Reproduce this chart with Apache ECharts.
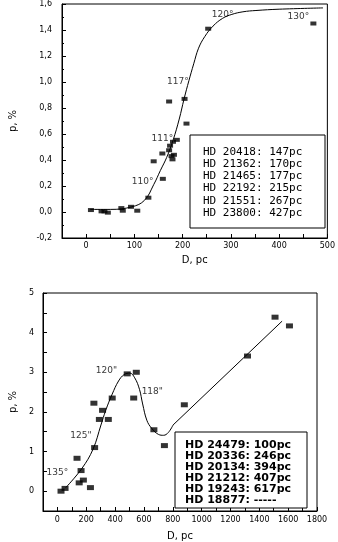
<!DOCTYPE html>
<html><head><meta charset="utf-8">
<script src="https://cdn.jsdelivr.net/npm/echarts@6/dist/echarts.min.js"></script>
<style>html,body{margin:0;padding:0;background:#fff}#c{width:338px;height:542px}</style>
</head><body><div id="c"></div>
<script>
// ---- Top panel data ----
const topPtsD = [10, 32, 38, 45, 73, 76, 93, 106, 129, 140, 158, 159, 172, 174, 177, 179, 182, 180, 188, 208, 172, 204, 253, 471];
const topPtsP = [0.015, 0.005, 0.005, -0.005, 0.03, 0.01, 0.04, 0.01, 0.11, 0.39, 0.45, 0.255, 0.475, 0.51, 0.43, 0.405, 0.44, 0.54, 0.555, 0.68, 0.85, 0.87, 1.41, 1.45];
const topCurveD = [8, 50, 95, 121, 140, 154, 167, 180, 193, 203, 213, 223, 233, 246, 263, 283, 302, 325, 352, 400, 491];
const topCurveP = [0.02, 0.02, 0.04, 0.09, 0.21, 0.32, 0.42, 0.55, 0.715, 0.87, 1.01, 1.14, 1.26, 1.35, 1.43, 1.49, 1.52, 1.54, 1.55, 1.56, 1.57];
const topAnnD = [117, 158, 190, 283, 440];
const topAnnP = [0.23, 0.565, 1.0, 1.52, 1.5];
const topAnnText = ['110°', '111°', '117°', '120°', '130°'];
const topLegend = ['HD 20418: 147pc', 'HD 21362: 170pc', 'HD 21465: 177pc', 'HD 22192: 215pc', 'HD 21551: 267pc', 'HD 23800: 427pc'];

// ---- Bottom panel data ----
const botPtsD = [25, 53, 136, 164, 151, 180, 229, 258, 253, 313, 291, 353, 380, 484, 547, 529, 669, 742, 880, 1318, 1509, 1609];
const botPtsP = [0.0, 0.07, 0.83, 0.52, 0.21, 0.28, 0.09, 1.10, 2.22, 2.04, 1.81, 1.81, 2.35, 2.96, 3.0, 2.35, 1.55, 1.15, 2.18, 3.41, 4.39, 4.17];
const botCurveD = [58, 169, 247, 302, 335, 380, 424, 462, 502, 536, 569, 591, 620, 653, 702, 736, 769, 802];
const botCurveP = [0.09, 0.57, 1.06, 1.67, 2.04, 2.45, 2.78, 2.94, 2.98, 2.86, 2.57, 2.2, 1.79, 1.59, 1.43, 1.41, 1.48, 1.67];
const botLineD = [802, 1558];
const botLineP = [1.67, 4.29];
const botAnnD = [0, 163, 340, 658];
const botAnnP = [0.47, 1.41, 3.05, 2.51];
const botAnnText = ['135°', '125"', '120"', '118"'];
const botLegend = ['HD 24479: 100pc', 'HD 20336: 246pc', 'HD 20134: 394pc', 'HD 21212: 407pc', 'HD 19243: 617pc', 'HD 18877: -----'];

const zip = (a, b) => a.map((v, i) => [v, b[i]]);
const F = 'DejaVu Sans';
const axisBase = {
  axisLine: { show: true, onZero: false, lineStyle: { color: '#000', width: 1 } },
  axisTick: { show: true, inside: true, length: 4, lineStyle: { color: '#000' } },
  splitLine: { show: false },
  nameTextStyle: { color: '#000', fontFamily: F, fontSize: 10 }
};

const chart = echarts.init(document.getElementById('c'), null, { renderer: 'canvas' });
chart.setOption({
  animation: false,
  backgroundColor: '#fff',
  grid: [
    { left: 53, right: 9, top: 2, bottom: 304, show: true, borderColor: '#000', borderWidth: 1 },
    { left: 32, right: 21, top: 293, bottom: 25, show: true, borderColor: '#000', borderWidth: 1 }
  ],
  xAxis: [
    Object.assign({}, axisBase, {
      gridIndex: 0, type: 'value', min: -50, max: 500, interval: 50,
      name: 'D, pc', nameLocation: 'middle', nameGap: 17,
      axisLabel: { color: '#000', fontFamily: F, fontSize: 8, margin: 4, showMaxLabel: true,
        formatter: v => (Math.round(v) % 100 === 0 && v >= 0) ? String(Math.round(v)) : '' }
    }),
    Object.assign({}, axisBase, {
      gridIndex: 1, type: 'value', min: -100, max: 1800, interval: 100,
      name: 'D, pc', nameLocation: 'middle', nameGap: 20,
      axisLabel: { color: '#000', fontFamily: F, fontSize: 8, margin: 5, showMaxLabel: true,
        formatter: v => (Math.round(v) % 200 === 0 && v >= 0) ? String(Math.round(v)) : '' }
    })
  ],
  yAxis: [
    Object.assign({}, axisBase, {
      gridIndex: 0, type: 'value', min: -0.2, max: 1.6, interval: 0.2,
      name: 'p, %', nameLocation: 'middle', nameGap: 44,
      minorTick: { show: true, splitNumber: 2, length: 2, lineStyle: { color: '#000' } },
      axisLabel: { color: '#000', fontFamily: F, fontSize: 8, margin: 10,
        formatter: v => v.toFixed(1).replace('.', ',') }
    }),
    Object.assign({}, axisBase, {
      gridIndex: 1, type: 'value', min: -0.5, max: 5, interval: 0.5,
      name: 'p, %', nameLocation: 'middle', nameGap: 24,
      axisLabel: { color: '#000', fontFamily: F, fontSize: 8, margin: 9,
        formatter: v => (Math.abs(v - Math.round(v)) < 1e-6) ? String(Math.round(v)) : '' }
    })
  ],
  series: [
    { type: 'line', xAxisIndex: 0, yAxisIndex: 0, data: zip(topCurveD, topCurveP), smooth: 0.4,
      showSymbol: false, lineStyle: { color: '#000', width: 1 }, silent: true },
    { type: 'scatter', xAxisIndex: 0, yAxisIndex: 0, data: zip(topPtsD, topPtsP),
      symbol: 'rect', symbolSize: [6, 4], itemStyle: { color: '#000' } },
    { type: 'scatter', xAxisIndex: 0, yAxisIndex: 0, symbolSize: 0,
      data: topAnnD.map((d, i) => ({ value: [d, topAnnP[i]], name: topAnnText[i] })),
      label: { show: true, position: 'inside', formatter: p => p.name, color: '#000', fontFamily: F, fontSize: 9 } },
    { type: 'line', xAxisIndex: 1, yAxisIndex: 1, data: zip(botCurveD, botCurveP), smooth: 0.4,
      showSymbol: false, lineStyle: { color: '#000', width: 1 }, silent: true },
    { type: 'line', xAxisIndex: 1, yAxisIndex: 1, data: zip(botLineD, botLineP),
      showSymbol: false, lineStyle: { color: '#000', width: 1 }, silent: true },
    { type: 'scatter', xAxisIndex: 1, yAxisIndex: 1, data: zip(botPtsD, botPtsP),
      symbol: 'rect', symbolSize: [7, 5], itemStyle: { color: '#000' } },
    { type: 'scatter', xAxisIndex: 1, yAxisIndex: 1, symbolSize: 0,
      data: botAnnD.map((d, i) => ({ value: [d, botAnnP[i]], name: botAnnText[i] })),
      label: { show: true, position: 'inside', formatter: p => p.name, color: '#000', fontFamily: F, fontSize: 9 } }
  ],
  graphic: [
    { type: 'rect', shape: { x: 190, y: 135, width: 135, height: 93 }, style: { fill: '#fff', stroke: '#000', lineWidth: 1 }, z: 10 },
    ...topLegend.map((t, i) => ({ type: 'text', x: 203, y: 152 + i * 12.2, z: 11,
      style: { text: t, fill: '#000', font: '11px "DejaVu Sans Mono"', textVerticalAlign: 'middle' } })),
    { type: 'rect', shape: { x: 175, y: 432, width: 132, height: 76 }, style: { fill: '#fff', stroke: '#000', lineWidth: 1 }, z: 10 },
    ...botLegend.map((t, i) => ({ type: 'text', x: 185, y: 445 + i * 11, z: 11,
      style: { text: t, fill: '#000', font: 'bold 11px "DejaVu Sans"', textVerticalAlign: 'middle' } }))
  ]
});
</script></body></html>
